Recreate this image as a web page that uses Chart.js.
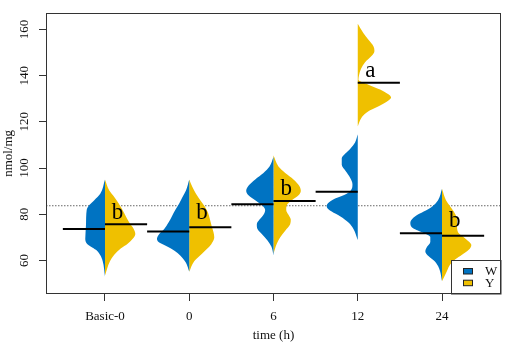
<!DOCTYPE html>
<html><head><meta charset="utf-8">
<script src="https://cdn.jsdelivr.net/npm/chart.js@4.4.1/dist/chart.umd.min.js"></script>
<style>html,body{margin:0;padding:0;background:#fff;}</style>
</head><body>
<canvas id="c" width="505" height="343"></canvas>
<script>
// ---------- data ----------
const categories = ['Basic-0', '0', '6', '12', '24'];
const seriesNames = ['W', 'Y'];
const yTicks = [60, 80, 100, 120, 140, 160];
const refLevel = 83.7;                       // dotted reference line (nmol/mg)
const meanW = [73.6, 72.6, 84.3, 89.8, 71.8];
const meanY = [75.7, 74.4, 85.8, 136.9, 70.7];
const letters = ['b', 'b', 'b', 'a', 'b'];
const letterLevel = [78.0, 78.0, 88.2, 139.6, 74.3];

// violin half profiles: [value (nmol/mg), relative density half-width (category units)]
const densW_basic0 = [[95.1,0],[88.9,.056],[86.1,.127],[84.0,.186],[81.9,.217],[75.7,.225],[69.4,.234],[67.3,.214],[66.0,.166],[64.6,.107],[62.5,.059],[59.7,.027],[53.0,0]];
const densY_basic0 = [[95.1,0],[90.3,.051],[87.5,.110],[84.7,.163],[80.5,.229],[76.4,.288],[73.6,.341],[71.5,.360],[69.4,.329],[67.3,.269],[65.3,.190],[62.5,.110],[59.7,.059],[53.5,0]];
const densW_0 = [[95.1,0],[90.3,.039],[87.5,.080],[84.7,.119],[81.9,.166],[79.2,.205],[76.4,.246],[73.6,.297],[71.5,.356],[69.4,.383],[68.0,.364],[66.7,.297],[65.2,.217],[63.2,.139],[61.1,.080],[59.0,.039],[55.1,0]];
const densY_0 = [[95.1,0],[91.7,.039],[88.9,.080],[86.1,.131],[83.3,.186],[80.5,.225],[77.7,.246],[75.0,.265],[72.2,.288],[70.1,.297],[68.0,.277],[65.9,.237],[63.9,.178],[61.8,.119],[59.7,.059],[55.1,0]];
const densW_6 = [[104.8,0],[100.7,.047],[97.9,.119],[95.1,.217],[92.3,.297],[90.2,.324],[88.2,.297],[86.1,.217],[84.0,.139],[81.9,.099],[79.8,.119],[77.7,.166],[75.7,.198],[73.6,.190],[71.5,.139],[68.7,.071],[65.9,.024],[62.2,0]];
const densY_6 = [[105.5,0],[100.7,.059],[97.9,.139],[95.1,.237],[92.3,.305],[90.2,.324],[88.2,.297],[86.1,.217],[84.0,.158],[81.9,.151],[79.8,.178],[77.7,.205],[75.7,.198],[72.9,.139],[70.1,.080],[67.3,.039],[63.0,0]];
const densW_12 = [[114.6,0],[111.1,.032],[108.3,.091],[106.2,.151],[104.2,.190],[101.4,.190],[98.6,.142],[95.8,.091],[93.0,.063],[91.0,.071],[88.9,.131],[86.8,.269],[84.7,.356],[83.3,.368],[81.2,.309],[79.2,.210],[76.4,.110],[73.6,.051],[70.1,.012],[68.9,0]];
const densY_12 = [[162.5,0],[158.3,.068],[155.5,.127],[152.7,.186],[150.7,.198],[148.6,.166],[145.8,.087],[143.0,.039],[140.2,.015],[138.2,.008],[136.1,.127],[134.0,.265],[131.9,.364],[130.5,.395],[129.2,.364],[127.1,.265],[125.0,.146],[122.9,.068],[120.1,.020],[118.0,0]];
const densW_24 = [[91.0,0],[86.1,.047],[83.3,.119],[81.2,.217],[79.2,.317],[76.4,.376],[74.3,.356],[72.2,.237],[70.1,.139],[68.0,.139],[65.9,.178],[63.9,.198],[61.8,.158],[59.7,.087],[57.6,.047],[55.5,.024],[51.0,0]];
const densY_24 = [[91.0,0],[86.1,.047],[83.3,.099],[80.5,.151],[77.7,.178],[75.0,.178],[72.2,.190],[70.1,.258],[68.0,.324],[66.7,.348],[64.6,.317],[62.5,.237],[60.5,.158],[58.4,.099],[55.5,.059],[51.0,0]];

// ---------- styling ----------
const colW = '#0073C2', colY = '#EFC000';
const X_MIN = 0.3, X_MAX = 5.7, Y_MIN = 45.5, Y_MAX = 167.2;
const SERIF = "'Liberation Serif', 'Times New Roman', serif";

const densW = [densW_basic0, densW_0, densW_6, densW_12, densW_24];
const densY = [densY_basic0, densY_0, densY_6, densY_12, densY_24];

const datasets = [];
datasets.push({
  label: 'ref', data: [{x: X_MIN, y: refLevel}, {x: X_MAX, y: refLevel}],
  borderColor: '#666', borderWidth: 1, borderDash: [1.5, 1.5], pointRadius: 0, fill: false, order: 3
});
categories.forEach((c, i) => {
  const pos = i + 1;
  datasets.push({
    label: seriesNames[0] + ' ' + c, data: densW[i].map(([v, w]) => ({x: pos - w, y: v})),
    backgroundColor: colW, borderColor: 'rgba(0,0,0,0)', borderWidth: 1, pointRadius: 0,
    fill: {value: pos}, cubicInterpolationMode: 'monotone', order: 2
  });
  datasets.push({
    label: seriesNames[1] + ' ' + c, data: densY[i].map(([v, w]) => ({x: pos + w, y: v})),
    backgroundColor: colY, borderColor: 'rgba(0,0,0,0)', borderWidth: 1, pointRadius: 0,
    fill: {value: pos}, cubicInterpolationMode: 'monotone', order: 2
  });
  datasets.push({
    label: 'mean W ' + c, data: [{x: pos - 0.5, y: meanW[i]}, {x: pos, y: meanW[i]}],
    borderColor: '#000', borderWidth: 2, pointRadius: 0, fill: false, tension: 0, order: 1
  });
  datasets.push({
    label: 'mean Y ' + c, data: [{x: pos, y: meanY[i]}, {x: pos + 0.5, y: meanY[i]}],
    borderColor: '#000', borderWidth: 2, pointRadius: 0, fill: false, tension: 0, order: 1
  });
});

const decorations = {
  id: 'decorations',
  afterDatasetsDraw(chart) {
    const {ctx, chartArea: a, scales: {x, y}} = chart;
    ctx.save();
    // letters
    ctx.fillStyle = '#000';
    ctx.font = '23px ' + SERIF;
    ctx.textAlign = 'center';
    ctx.textBaseline = 'alphabetic';
    letters.forEach((t, i) => {
      ctx.fillText(t, x.getPixelForValue(i + 1 + 0.15), y.getPixelForValue(letterLevel[i]));
    });
    // legend (bottom right)
    const bx = Math.round(a.right - 50) + 0.5, by = Math.round(a.bottom - 34) + 0.5;
    ctx.fillStyle = '#fff';
    ctx.fillRect(bx, by, a.right - bx, a.bottom - by);
    ctx.strokeStyle = '#333'; ctx.lineWidth = 1;
    ctx.strokeRect(bx, by, a.right - bx, a.bottom - by);
    const cols = [colW, colY];
    ctx.font = '13px ' + SERIF;
    ctx.textAlign = 'left'; ctx.textBaseline = 'middle';
    seriesNames.forEach((n, k) => {
      const sy = a.bottom - 25.5 + k * 11.7;
      ctx.fillStyle = cols[k];
      ctx.fillRect(a.right - 37.5, sy, 9, 5.5);
      ctx.strokeStyle = '#222';
      ctx.strokeRect(a.right - 37.5, sy, 9, 5.5);
      ctx.fillStyle = '#111';
      ctx.fillText(n, a.right - 16, sy + 3);
    });
    ctx.restore();
  },
  afterDraw(chart) {
    const {ctx, chartArea: a} = chart;
    ctx.save();
    ctx.strokeStyle = '#333'; ctx.lineWidth = 1;
    ctx.strokeRect(Math.round(a.left) + 0.5, Math.round(a.top) + 0.5,
      Math.round(a.right - a.left) - 1, Math.round(a.bottom - a.top) - 1);
    ctx.restore();
  }
};

new Chart(document.getElementById('c'), {
  type: 'line',
  data: {datasets},
  options: {
    responsive: false, animation: false, indexAxis: 'y',
    layout: {padding: {left: 0, top: 2, right: 4, bottom: 0}},
    plugins: {legend: {display: false}, tooltip: {enabled: false}},
    scales: {
      x: {
        type: 'linear', position: 'bottom', min: X_MIN, max: X_MAX,
        afterBuildTicks: s => { s.ticks = categories.map((c, i) => ({value: i + 1})); },
        afterFit: s => { s.height = 49; },
        grid: {drawOnChartArea: false, drawTicks: true, tickLength: 7, color: '#333'},
        border: {display: false},
        ticks: {
          callback: v => categories[Math.round(v) - 1],
          font: {family: SERIF, size: 13}, color: '#111', padding: 8, maxRotation: 0, autoSkip: false
        },
        title: {display: true, text: 'time (h)', font: {family: SERIF, size: 13}, color: '#111', padding: {top: 0, bottom: 0}}
      },
      y: {
        type: 'linear', position: 'left', min: Y_MIN, max: Y_MAX,
        afterBuildTicks: s => { s.ticks = yTicks.map(v => ({value: v})); },
        afterFit: s => { s.width = 46; },
        grid: {drawOnChartArea: false, drawTicks: true, tickLength: 7, color: '#333'},
        border: {display: false},
        ticks: {
          font: {family: SERIF, size: 13}, color: '#111', padding: 5,
          minRotation: 90, maxRotation: 90, crossAlign: 'center', autoSkip: false
        },
        title: {display: true, text: 'nmol/mg', font: {family: SERIF, size: 13}, color: '#111', padding: {top: 1, bottom: 0}}
      }
    }
  },
  plugins: [decorations]
});
</script>
</body></html>
